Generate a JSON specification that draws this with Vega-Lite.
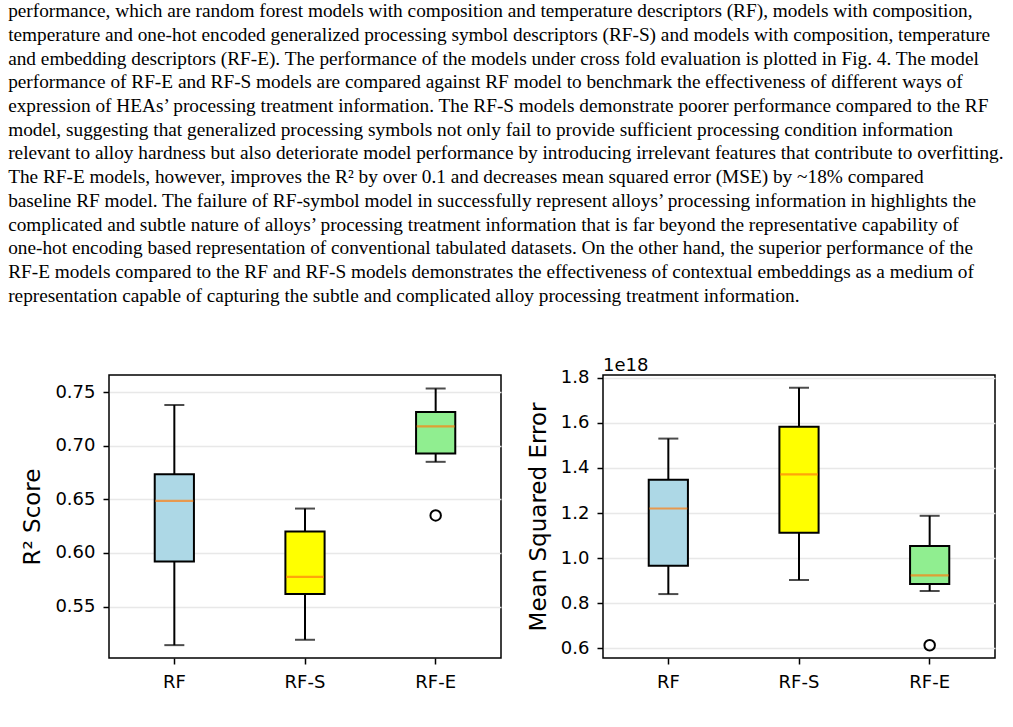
{
  "$schema": "https://vega.github.io/schema/vega-lite/v6.json",
  "padding": {"left": 8, "top": 2, "right": 0, "bottom": 0},
  "background": "white",
  "title": {
    "text": [
      "performance, which are random forest models with composition and temperature descriptors (RF), models with composition,",
      "temperature and one-hot encoded generalized processing symbol descriptors (RF-S) and models with composition, temperature",
      "and embedding descriptors (RF-E). The performance of the models under cross fold evaluation is plotted in Fig. 4. The model",
      "performance of RF-E and RF-S models are compared against RF model to benchmark the effectiveness of different ways of",
      "expression of HEAs’ processing treatment information. The RF-S models demonstrate poorer performance compared to the RF",
      "model, suggesting that generalized processing symbols not only fail to provide sufficient processing condition information",
      "relevant to alloy hardness but also deteriorate model performance by introducing irrelevant features that contribute to overfitting.",
      "The RF-E models, however, improves the R² by over 0.1 and decreases mean squared error (MSE) by ~18% compared",
      "baseline RF model. The failure of RF-symbol model in successfully represent alloys’ processing information in highlights the",
      "complicated and subtle nature of alloys’ processing treatment information that is far beyond the representative capability of",
      "one-hot encoding based representation of conventional tabulated datasets. On the other hand, the superior performance of the",
      "RF-E models compared to the RF and RF-S models demonstrates the effectiveness of contextual embeddings as a medium of",
      "representation capable of capturing the subtle and complicated alloy processing treatment information."
    ],
    "anchor": "start",
    "frame": "bounds",
    "font": "Liberation Serif",
    "fontSize": 19.3,
    "fontWeight": "normal",
    "lineHeight": 23.7,
    "color": "black",
    "offset": 50,
    "dx": -13
  },
  "datasets": {
    "r2": [
      {"model": "RF", "lower": 0.514, "q1": 0.592, "median": 0.6486, "q3": 0.6735, "upper": 0.738},
      {"model": "RF-S", "lower": 0.519, "q1": 0.5618, "median": 0.5777, "q3": 0.620, "upper": 0.6414},
      {"model": "RF-E", "lower": 0.685, "q1": 0.6927, "median": 0.718, "q3": 0.7316, "upper": 0.7534}
    ],
    "r2_out": [
      {"model": "RF-E", "value": 0.635}
    ],
    "mse": [
      {"model": "RF", "lower": 0.8405, "q1": 0.966, "median": 1.220, "q3": 1.348, "upper": 1.530},
      {"model": "RF-S", "lower": 0.903, "q1": 1.112, "median": 1.371, "q3": 1.582, "upper": 1.7555},
      {"model": "RF-E", "lower": 0.854, "q1": 0.885, "median": 0.923, "q3": 1.054, "upper": 1.1876}
    ],
    "mse_out": [
      {"model": "RF-E", "value": 0.6135}
    ]
  },
  "hconcat": [
    {
      "width": 392,
      "height": 283,
      "data": {"name": "r2"},
      "encoding": {
        "x": {"field": "model", "type": "nominal", "sort": ["RF", "RF-S", "RF-E"], "scale": {"paddingInner": 0, "paddingOuter": 0}, "axis": {"title": null}}
      },
      "layer": [
        {
          "mark": {"type": "rule", "color": "black", "strokeWidth": 2},
          "encoding": {
            "y": {"field": "lower", "type": "quantitative", "scale": {"domain": [0.502, 0.766], "nice": false, "zero": false}, "axis": {"title": "R² Score", "values": [0.55, 0.6, 0.65, 0.7, 0.75], "format": ".2f"}},
            "y2": {"field": "q1"}
          }
        },
        {
          "mark": {"type": "rule", "color": "black", "strokeWidth": 2},
          "encoding": {
            "y": {"field": "q3", "type": "quantitative", "scale": {"domain": [0.502, 0.766], "nice": false, "zero": false}},
            "y2": {"field": "upper"}
          }
        },
        {
          "mark": {"type": "tick", "color": "black", "size": 20, "thickness": 2},
          "encoding": {"y": {"field": "lower", "type": "quantitative", "scale": {"domain": [0.502, 0.766], "nice": false, "zero": false}}}
        },
        {
          "mark": {"type": "tick", "color": "black", "size": 20, "thickness": 2},
          "encoding": {"y": {"field": "upper", "type": "quantitative", "scale": {"domain": [0.502, 0.766], "nice": false, "zero": false}}}
        },
        {
          "mark": {"type": "bar", "width": {"band": 0.3}, "stroke": "black", "strokeWidth": 2},
          "encoding": {
            "y": {"field": "q1", "type": "quantitative", "scale": {"domain": [0.502, 0.766], "nice": false, "zero": false}},
            "y2": {"field": "q3"},
            "color": {"field": "model", "type": "nominal", "scale": {"domain": ["RF", "RF-S", "RF-E"], "range": ["#add8e6", "#ffff00", "#90ee90"]}, "legend": null}
          }
        },
        {
          "mark": {"type": "tick", "color": "#ff7f0e", "size": 38, "thickness": 2.2},
          "encoding": {"y": {"field": "median", "type": "quantitative", "scale": {"domain": [0.502, 0.766], "nice": false, "zero": false}}}
        },
        {
          "data": {"name": "r2_out"},
          "mark": {"type": "point", "shape": "circle", "filled": false, "color": "black", "size": 110, "strokeWidth": 2, "opacity": 1},
          "encoding": {"y": {"field": "value", "type": "quantitative", "scale": {"domain": [0.502, 0.766], "nice": false, "zero": false}}}
        }
      ]
    },
    {
      "width": 392,
      "height": 283,
      "data": {"name": "mse"},
      "title": {"text": "1e18", "anchor": "start", "frame": "group", "font": "DejaVu Sans", "fontSize": 18, "fontWeight": "normal", "color": "black", "offset": -6},
      "encoding": {
        "x": {"field": "model", "type": "nominal", "sort": ["RF", "RF-S", "RF-E"], "scale": {"paddingInner": 0, "paddingOuter": 0}, "axis": {"title": null}}
      },
      "layer": [
        {
          "mark": {"type": "rule", "color": "black", "strokeWidth": 2},
          "encoding": {
            "y": {"field": "lower", "type": "quantitative", "scale": {"domain": [0.557, 1.812], "nice": false, "zero": false}, "axis": {"title": "Mean Squared Error", "values": [0.6, 0.8, 1.0, 1.2, 1.4, 1.6, 1.8], "format": ".1f"}},
            "y2": {"field": "q1"}
          }
        },
        {
          "mark": {"type": "rule", "color": "black", "strokeWidth": 2},
          "encoding": {
            "y": {"field": "q3", "type": "quantitative", "scale": {"domain": [0.557, 1.812], "nice": false, "zero": false}},
            "y2": {"field": "upper"}
          }
        },
        {
          "mark": {"type": "tick", "color": "black", "size": 20, "thickness": 2},
          "encoding": {"y": {"field": "lower", "type": "quantitative", "scale": {"domain": [0.557, 1.812], "nice": false, "zero": false}}}
        },
        {
          "mark": {"type": "tick", "color": "black", "size": 20, "thickness": 2},
          "encoding": {"y": {"field": "upper", "type": "quantitative", "scale": {"domain": [0.557, 1.812], "nice": false, "zero": false}}}
        },
        {
          "mark": {"type": "bar", "width": {"band": 0.3}, "stroke": "black", "strokeWidth": 2},
          "encoding": {
            "y": {"field": "q1", "type": "quantitative", "scale": {"domain": [0.557, 1.812], "nice": false, "zero": false}},
            "y2": {"field": "q3"},
            "color": {"field": "model", "type": "nominal", "scale": {"domain": ["RF", "RF-S", "RF-E"], "range": ["#add8e6", "#ffff00", "#90ee90"]}, "legend": null}
          }
        },
        {
          "mark": {"type": "tick", "color": "#ff7f0e", "size": 38, "thickness": 2.2},
          "encoding": {"y": {"field": "median", "type": "quantitative", "scale": {"domain": [0.557, 1.812], "nice": false, "zero": false}}}
        },
        {
          "data": {"name": "mse_out"},
          "mark": {"type": "point", "shape": "circle", "filled": false, "color": "black", "size": 110, "strokeWidth": 2, "opacity": 1},
          "encoding": {"y": {"field": "value", "type": "quantitative", "scale": {"domain": [0.557, 1.812], "nice": false, "zero": false}}}
        }
      ]
    }
  ],
  "spacing": 24,
  "resolve": {"scale": {"color": "shared"}},
  "config": {
    "view": {"stroke": "black", "strokeWidth": 1.5},
    "axis": {
      "labelFont": "DejaVu Sans",
      "labelFontSize": 18,
      "labelColor": "black",
      "titleFont": "DejaVu Sans",
      "titleFontSize": 23,
      "titleFontWeight": "normal",
      "titleColor": "black",
      "tickColor": "black",
      "tickSize": 6,
      "tickWidth": 1.5,
      "domain": false
    },
    "axisX": {"grid": false, "labelAngle": 0, "labelPadding": 9},
    "axisY": {"grid": true, "gridColor": "#e8e8e8", "gridWidth": 1.5, "labelPadding": 8, "titlePadding": 10}
  }
}
